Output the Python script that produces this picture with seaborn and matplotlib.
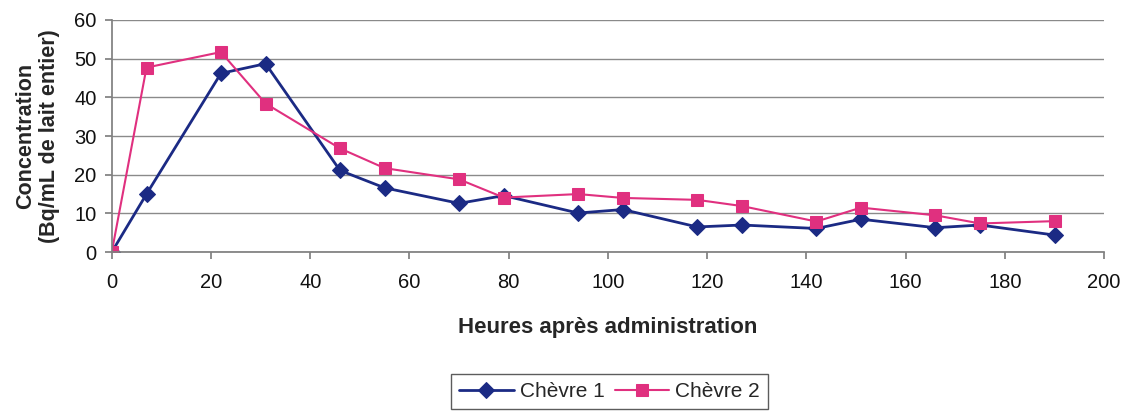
import pandas as pd
import matplotlib.pyplot as plt
import seaborn as sns

# Data
heures = [0, 7, 22, 31, 46, 55, 70, 79, 94, 103, 118, 127, 142, 151, 166, 175, 190]
chevre1 = [0, 15, 46.2, 48.7, 21.1, 16.6, 12.6, 14.6, 10.1, 11, 6.5, 7, 6.1, 8.5, 6.3, 7, 4.4]
chevre2 = [0, 47.7, 51.7, 38.4, 26.8, 21.7, 18.8, 14.1, 15, 14, 13.5, 11.9, 7.9, 11.5, 9.5, 7.4, 8]

df = pd.DataFrame({"Heures": heures, "Chèvre 1": chevre1, "Chèvre 2": chevre2})

sns.set_theme(style="white")
plt.rcParams['font.family'] = ['Liberation Sans', 'DejaVu Sans']

fig = plt.figure(figsize=(11.29, 4.16), dpi=100)
ax = fig.add_axes([0.099, 0.394, 0.879, 0.558])

sns.lineplot(data=df, x="Heures", y="Chèvre 1", ax=ax, color="#1B2A84", marker="D",
             markersize=8, markeredgecolor="#1B2A84", linewidth=2, label="Chèvre 1")
sns.lineplot(data=df, x="Heures", y="Chèvre 2", ax=ax, color="#E0307F", marker="s",
             markersize=8.5, markeredgecolor="#E0307F", linewidth=1.5, label="Chèvre 2")

ax.set_xlim(0, 200)
ax.set_ylim(0, 60)
ax.set_xticks(range(0, 201, 20))
ax.set_yticks(range(0, 61, 10))
ax.yaxis.grid(True, color="#8a8a8a", linewidth=1)
ax.set_axisbelow(True)
for s in ["top", "right"]:
    ax.spines[s].set_visible(False)
for s in ["left", "bottom"]:
    ax.spines[s].set_color("#808080")
ax.tick_params(axis="both", which="both", length=5, color="#808080", direction="out",
               labelsize=14.5, bottom=True, left=True, labelcolor="#111111")
ax.tick_params(axis="x", pad=10)
ax.tick_params(axis="y", pad=6)

ax.set_xlabel("Heures après administration", fontsize=16, fontweight="bold", labelpad=18)
ax.set_ylabel("Concentration\n(Bq/mL de lait entier)", fontsize=15.5, fontweight="bold", labelpad=10)

ax.get_legend().remove()
handles, labels = ax.get_legend_handles_labels()
leg = fig.legend(handles, labels, loc="center", bbox_to_anchor=(0.540, 0.059), ncol=2,
                 fontsize=15, frameon=True, fancybox=False, handlelength=2.6,
                 columnspacing=0.5, handletextpad=0.3, borderpad=0.4, borderaxespad=0)
leg.get_frame().set_edgecolor("#333333")
leg.get_frame().set_linewidth(1)

fig.savefig("out.png", dpi=100)
